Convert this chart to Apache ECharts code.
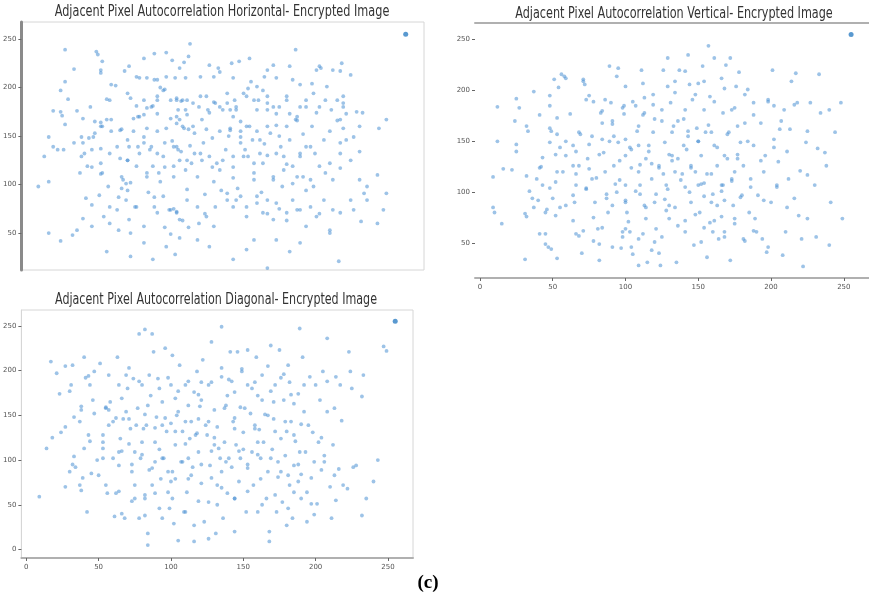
<!DOCTYPE html>
<html><head><meta charset="utf-8">
<script src="https://cdn.jsdelivr.net/npm/echarts@6/dist/echarts.min.js"></script>
<style>html,body{margin:0;padding:0;background:#fff}#c{width:869px;height:599px}</style>
</head><body><div id="c"></div>
<script>
// ---- tick labels ----
var tickValues = [0, 50, 100, 150, 200, 250];
var titles = [
  'Adjacent Pixel Autocorrelation Horizontal- Encrypted Image',
  'Adjacent Pixel Autocorrelation Vertical- Encrypted Image',
  'Adjacent Pixel Autocorrelation Diagonal- Encrypted Image'
];
var caption = '(c)';
// saturated pixel pair shown in every panel
var saturatedPoint = [[255, 255]];

// ---- Horizontal pairs (pixel, right neighbour) ----
var horizontalPairs = [
[26,239],[47,237],[48,234],[51,227],[50,218],[50,215],[32,219],[26,206],[23,197],[28,188],[18,176],[23,175],[24,171],[26,162],[34,176],
[79,230],[86,235],[94,236],[98,228],[110,245],[109,232],[103,220],[106,226],[66,217],[69,222],[74,211],[76,210],
[123,223],[129,220],[130,216],[138,225],[143,227],[150,230],[181,239],[177,222],[166,223],[162,218],[195,218],[197,222],[212,225],[211,217],[218,213],[206,218],[198,220],
[81,210],[88,208],[90,200],[94,211],[100,210],[107,210],[117,211],[126,211],[139,210],[151,206],[160,211],[168,210],[179,208],[184,203],[192,204],
[57,203],[60,202],[54,188],[56,187],[43,180],[38,168],[46,165],[50,164],[54,167],[37,149],[42,148],[45,149],
[68,194],[70,189],[74,181],[79,172],[81,179],[85,181],[88,173],[88,187],[72,168],[76,170],
[92,197],[97,187],[101,189],[105,187],[107,177],[102,177],[103,167],[97,168],[108,172],[112,184],[117,191],[116,180],[121,191],[123,174],[126,185],[130,180],[132,177],[135,184],[137,177],[139,170],[141,177],[144,165],[140,187],[146,194],[149,199],[153,187],[156,187],[159,197],[162,191],[155,177],[162,177],[166,180],[170,180],[175,187],[177,173],[181,167],[182,170],[184,180],[188,187],[193,194],[197,180],[201,187],[195,174],[205,177],[209,187],[213,191],[213,180],[222,175],[215,173],[211,167],[213,158],[204,155],[192,160],[175,160],[168,161],[162,160],[155,155],[148,160],[144,155],[137,158],[130,155],[121,157],[112,160],[106,158],[101,163],[94,158],[88,155],[81,158],[72,155],[63,156],[57,155],[50,160],[224,160],[237,158],[242,167],[226,174],
[8,98],[12,129],[15,149],[18,139],[21,136],[25,136],[15,103],
[32,143],[38,143],[37,129],[41,119],[36,112],[44,136],[50,137],[50,122],[51,112],[56,132],[61,139],[63,127],[68,125],[69,139],[65,105],[70,102],[74,119],[76,132],[79,143],[83,136],[85,119],[89,112],[92,129],[93,143],[99,139],[102,136],[103,125],[99,119],[107,115],[111,122],[117,132],[119,143],[123,129],[128,122],[130,115],[134,136],[139,129],[144,143],[147,136],[149,129],[153,122],[157,132],[162,130],[168,132],[173,129],[175,121],[179,119],[184,129],[188,139],[194,132],[197,119],[201,112],[206,105],[211,117],[218,125],[224,134],[211,143],[215,146],[236,110],[229,98],[139,107],[126,103],[115,108],[90,103],[81,112],[153,105],[166,105],[182,108],[191,105],
[15,50],[23,42],[31,48],[34,53],[40,86],[38,65],[44,79],[44,57],[49,89],[52,67],[56,77],[56,60],[61,74],[62,53],[67,84],[69,64],[70,50],[74,77],[79,57],[86,77],[88,71],[92,88],[96,74],[99,75],[101,71],[103,64],[108,84],[115,77],[121,67],[126,57],[131,94],[135,84],[139,77],[144,88],[148,67],[155,81],[159,71],[162,84],[166,64],[170,75],[175,71],[179,84],[184,74],[191,77],[195,67],[200,84],[204,53],[206,74],[211,71],[218,84],[220,74],[225,62],[236,60],[240,74],[242,91],[227,91],[229,84],
[54,31],[70,26],[79,40],[85,23],[94,36],[100,28],[103,45],[115,43],[123,36],[139,23],[148,33],[162,14],[168,43],[177,31],[184,40],[204,50],[210,21],[153,43],
[98,145],[110,140],[125,148],[136,150],[152,146],[160,142],[170,150],[186,152],[200,146],[108,95],[120,90],[142,96],[158,92],[172,98],[188,94],[82,92],[64,96],
[101,187],[104,186],[108,187],[101,170],[105,160],[109,157],[113,153],[118,167],[122,177],[127,184],[101,139],[104,134],[108,125],[113,132],[118,125],[125,118],[99,108],[93,118],[88,132],[84,139],[79,149],[75,139],[68,125],[64,108],[67,101],[68,94],[62,87],[73,77],[97,74],[101,72],[105,63],[109,56],[116,60],[120,70],[127,77],[93,56],[97,49],[86,87],[81,108],[55,98],[50,111],[44,118],[39,132],[46,153],[51,160],[57,167],[64,157],[68,146],[84,180],[88,191],[93,198],[75,170],[79,187],[86,208],
[135,194],[141,180],[148,191],[155,201],[162,184],[168,173],[175,191],[182,166],[188,180],[137,156],[144,149],[150,160],[157,146],[164,153],[171,139],[177,146],[184,132],[191,139],[132,125],[139,118],[146,129],[153,112],[159,122],[166,108],[173,115],[179,101],[186,108],[193,98],[135,91],[141,84],[148,77],[155,88],[162,70],[168,81],[175,63],[182,74],[188,57],[197,70],[204,122],[211,132],[209,166],[202,201],[213,184],[220,149],[224,105]
];

// ---- Vertical pairs (pixel, lower neighbour) ----
var verticalPairs = [
[9,115],[9,85],[10,80],[12,150],[15,69],[16,123],[12,184],
[22,122],[25,147],[25,140],[25,192],[27,183],[24,170],[31,79],[32,76],[31,34],[32,116],[32,165],[33,160],
[34,101],[36,94],[37,199],[39,113],[40,92],[41,59],[45,59],[45,49],[47,46],[49,44],[45,80],[46,83],[50,94],[43,107],[42,125],[43,134],[48,149],[49,160],[48,185],[48,195],[51,211],[56,216],[58,214],[59,212],[54,203],[53,173],[53,157],[52,137],[53,120],[52,110],[52,77],[53,35],[57,120],[59,150],[59,136],[62,177],[64,146],[66,140],[66,107],[64,97],[65,90],[66,59],[68,57],[70,40],[71,211],[72,206],[73,191],[75,195],[68,159],[74,133],[75,123],[77,113],[79,90],[78,75],[81,64],[82,49],[82,33],[83,178],[84,168],[84,152],[85,139],[86,120],[87,94],[88,80],[89,224],[90,188],[91,167],[92,155],[92,126],[94,100],[94,214],[95,222],[97,45],[98,61],[100,136],[100,152],[99,185],[99,177],[100,204],[100,90],[101,80],[102,71],[103,61],[104,46],[107,185],[108,160],[109,146],[109,120],[109,28],[110,107],[111,220],[112,207],[113,193],[113,178],[114,133],[114,74],[115,31],[118,113],[119,159],[120,90],[121,64],[123,40],[124,28],[125,181],[126,220],[127,149],[128,107],[129,232],[129,204],[130,87],[130,74],[132,136],[133,165],[134,198],[134,120],[135,31],[136,67],[137,220],[140,172],[141,105],[142,142],[143,235],[143,155],[145,90],[146,191],[147,48],[148,120],[149,163],[150,207],[151,80],[152,136],[153,224],[154,109],[155,159],[156,36],[157,244],[158,194],[158,70],[159,90],[160,61],[161,232],[161,146],[163,87],[163,126],[164,54],[166,76],[166,212],[167,178],[167,107],[168,136],[169,225],[171,159],[172,33],[172,232],[173,181],[173,113],[174,87],[175,74],[176,204],[177,133],[178,218],[179,149],[180,97],[181,54],[182,168],[184,201],[185,80],[186,113],[188,188],[188,146],[189,74],[190,61],[191,97],[193,168],[194,54],[195,120],[196,136],[197,41],[198,191],[200,90],[201,220],[202,152],[202,185],[204,107],[205,130],[206,162],[208,38],[209,181],[210,61],[211,140],[212,113],[213,162],[214,209],[216,94],[217,217],[218,188],[219,77],[221,54],[222,27],[224,149],[225,117],[225,74],[227,188],[230,107],[231,56],[232,143],[233,216],[234,178],[237,139],[238,126],[240,181],[240,48],[241,90],[244,159],[248,188],[249,74],
[109,165],[116,146],[120,172],[123,126],[129,103],[136,133],[141,181],[145,126],[150,107],[132,159],[127,93],[113,87],[104,142],[100,107],[95,149],[91,87],[86,191],[77,155],[73,103],[68,126],[64,126],[59,87],[154,181],[159,159],[166,107],[170,133],[177,165],[181,126],[168,61],[152,51],[141,61],[120,51],[109,54],[100,64],
[118,128],[126,118],[138,112],[144,100],[156,118],[160,98],[110,98],[104,124],[96,112],[140,146],[150,150],[131,188],[119,196],[144,206],[154,96],[168,92],[175,120],
[71,209],[78,189],[84,180],[91,170],[98,183],[105,189],[112,176],[119,186],[125,170],[69,157],[75,147],[82,137],[89,150],[96,131],[103,144],[110,127],[116,140],[123,124],[130,137],[66,118],[73,104],[80,114],[87,98],[93,108],[100,92],[107,101],[114,85],[121,98],[128,82],[64,72],[71,62],[78,52],[84,65],[91,46],[98,56],[105,39],[112,59],[118,43],[125,56],[41,176],[48,163],[55,144],[41,124],[48,104],[37,85],[55,85],
[134,209],[141,219],[148,196],[154,209],[161,189],[168,202],[175,183],[182,196],[188,176],[198,189],[207,170],[136,170],[143,160],[150,150],[157,166],[163,144],[170,157],[177,137],[184,150],[193,131],[202,144],[132,131],[139,118],[145,124],[152,108],[159,118],[166,101],[173,111],[179,95],[186,105],[195,92],[204,105],[134,85],[141,72],[148,78],[154,65],[161,72],[168,56],[175,69],[182,52],[188,62],[198,46],[211,85],[220,121],[216,186],[225,160]
];

// ---- Diagonal pairs (pixel, diagonal neighbour) ----
var diagonalPairs = [
[9,59],[14,113],[18,125],[17,210],[21,197],[23,174],[24,131],[27,137],[27,205],[27,70],[30,87],[31,184],[32,206],[33,148],[33,104],[34,92],[37,72],[38,66],[38,156],[38,160],[40,215],[40,113],[42,42],[43,194],[44,184],[45,85],[46,167],[47,199],[47,152],[49,100],[50,83],[51,208],[53,128],[53,120],[55,159],[55,72],[56,63],[57,156],[58,165],[60,143],[61,37],[62,63],[63,215],[64,94],[65,124],[66,40],[67,146],[68,35],[69,195],[71,118],[72,135],[73,87],[74,191],[75,72],[77,158],[78,35],[78,241],[79,102],[80,184],[81,135],[82,57],[82,38],[82,246],[83,139],[84,18],[84,5],[85,89],[86,172],[87,241],[88,221],[89,63],[89,120],[90,148],[91,191],[93,79],[94,35],[94,165],[95,102],[96,225],[97,132],[98,64],[99,46],[100,141],[100,184],[101,217],[102,29],[103,79],[103,117],[105,10],[105,154],[106,206],[107,98],[108,132],[109,42],[110,184],[111,64],[112,161],[113,124],[114,143],[115,92],[116,27],[116,9],[118,199],[119,146],[119,109],[121,74],[121,167],[122,212],[123,31],[125,128],[126,12],[127,94],[128,232],[128,187],[130,156],[131,18],[132,137],[132,72],[134,102],[135,249],[135,193],[136,35],[137,120],[138,161],[139,63],[141,221],[142,92],[143,143],[144,20],[144,176],[145,117],[146,221],[147,76],[148,159],[149,202],[150,131],[152,42],[153,91],[153,223],[155,152],[156,109],[157,72],[158,187],[159,215],[160,42],[161,134],[162,79],[163,167],[164,120],[166,57],[167,205],[168,20],[168,9],[169,102],[169,228],[171,146],[172,184],[173,42],[174,81],[175,223],[176,124],[177,53],[178,167],[179,105],[180,27],[181,206],[182,72],[182,187],[183,143],[184,35],[185,94],[185,163],[186,121],[188,174],[188,76],[189,247],[190,140],[191,215],[192,154],[193,109],[194,64],[194,31],[196,193],[197,51],[198,131],[199,98],[200,184],[201,51],[202,120],[203,167],[204,89],[205,199],[206,105],[208,236],[208,154],[210,70],[211,35],[212,117],[214,193],[214,55],[216,90],[217,184],[218,144],[219,72],[222,68],[223,221],[224,199],[225,180],[226,92],[228,94],[232,171],[232,38],[233,195],[235,57],[240,76],[243,100],[247,227],[249,222],
[121,187],[126,143],[130,117],[135,87],[116,176],[112,102],[103,169],[94,139],[89,98],[84,161],[80,120],[75,109],[71,146],[66,169],[144,135],[148,102],[139,172],[132,50],[158,135],[162,102],[167,150],[171,165],[176,87],[180,132],[185,64],[189,109],[153,184],[144,57],[126,53],[112,79],[98,87],[87,72],[75,57],[64,109],[53,102],[43,128],[57,139],
[110,118],[118,130],[128,110],[138,98],[150,112],[160,120],[170,112],[104,150],[92,112],[100,76],[120,160],[140,190],[160,172],[178,196],[190,84],[70,180],
[57,195],[64,184],[71,203],[78,188],[85,195],[92,180],[98,192],[105,177],[112,188],[119,173],[126,184],[55,158],[62,147],[69,154],[76,139],[82,151],[89,136],[96,147],[103,132],[110,143],[117,128],[124,139],[130,125],[53,113],[60,102],[66,110],[73,95],[80,106],[87,91],[94,102],[101,87],[108,98],[114,83],[121,95],[128,80],[64,65],[73,54],[82,61],[92,46],[101,57],[110,42],[119,54],[32,95],[39,80],[44,121],[37,143],[30,177],[41,192],
[135,203],[142,188],[149,199],[156,180],[163,195],[169,177],[176,192],[183,173],[192,184],[137,158],[144,147],[151,158],[158,139],[165,151],[172,132],[179,143],[185,128],[195,139],[204,125],[133,113],[140,102],[147,110],[153,95],[160,106],[167,87],[174,98],[181,83],[188,95],[197,80],[206,98],[135,69],[144,57],[153,65],[163,50],[172,61],[181,46],[190,57],[199,39],[213,83],[213,158],[208,188]
];

// ---- build chart ----
var chart = echarts.init(document.getElementById('c'), null, {renderer: 'canvas'});
var pointStyle = {color: 'rgba(74,144,210,0.68)'};
var satStyle = {color: '#2f7fc4'};
var lblFont = {fontSize: 7, color: '#555', fontFamily: 'DejaVu Sans'};
function xAx(gi, show, pos, withLabels) {
  return {type: 'value', gridIndex: gi, min: -3.4, max: 267.3, show: show, position: pos,
    splitLine: {show: false},
    axisLine: {show: true, onZero: false, lineStyle: {color: '#b0b0b0', width: 2}},
    axisTick: {show: withLabels, length: 3, customValues: tickValues, lineStyle: {color: '#666'}},
    axisLabel: Object.assign({show: withLabels, customValues: tickValues, margin: 6}, lblFont)};
}
function yAx(gi, min, max, lineShow, lineColor, lineWidth) {
  return {type: 'value', gridIndex: gi, min: min, max: max,
    splitLine: {show: false},
    axisLine: {show: lineShow, onZero: false, lineStyle: {color: lineColor, width: lineWidth}},
    axisTick: {show: true, length: 3, customValues: tickValues, lineStyle: {color: '#666'}},
    axisLabel: Object.assign({customValues: tickValues, margin: 5}, lblFont)};
}
var titleFont = '16px "DejaVu Sans"';
var titlePos = [[222, 12, 0.705], [674, 14, 0.701], [216, 300, 0.694]];
chart.setOption({
  animation: false,
  backgroundColor: '#fff',
  graphic: titles.map(function (t, i) {
    return {type: 'text', x: titlePos[i][0], y: titlePos[i][1], scaleX: titlePos[i][2], z: 10,
      style: {text: t, font: titleFont, fill: '#333', align: 'center', verticalAlign: 'middle'}};
  }).concat([{type: 'text', x: 428, y: 583,
      style: {text: caption, font: 'bold 19px "Liberation Serif"', fill: '#000', align: 'center', verticalAlign: 'middle'}}]),
  grid: [
    {left: 21, top: 22, width: 403, height: 248, show: true, borderColor: '#d6d6d6', borderWidth: 1},
    {left: 475, top: 23, width: 397, height: 255, show: false},
    {left: 18, top: 310, width: 395, height: 248, show: true, borderColor: '#d6d6d6', borderWidth: 1}
  ],
  xAxis: [xAx(0, false, 'bottom', false), xAx(1, true, 'bottom', true), xAx(1, true, 'top', false), xAx(2, true, 'bottom', true)],
  yAxis: [yAx(0, 12, 267.5, true, '#8a8a8a', 3), yAx(1, 15.6, 266.4, false, '#d6d6d6', 1), yAx(2, -9.5, 267.7, true, '#d6d6d6', 1)],
  series: [
    {type: 'scatter', xAxisIndex: 0, yAxisIndex: 0, data: horizontalPairs, symbolSize: 3.8, itemStyle: pointStyle},
    {type: 'scatter', xAxisIndex: 0, yAxisIndex: 0, data: saturatedPoint, symbolSize: 5, itemStyle: satStyle},
    {type: 'scatter', xAxisIndex: 1, yAxisIndex: 1, data: verticalPairs, symbolSize: 3.8, itemStyle: pointStyle},
    {type: 'scatter', xAxisIndex: 1, yAxisIndex: 1, data: saturatedPoint, symbolSize: 5, itemStyle: satStyle},
    {type: 'scatter', xAxisIndex: 3, yAxisIndex: 2, data: diagonalPairs, symbolSize: 3.8, itemStyle: pointStyle},
    {type: 'scatter', xAxisIndex: 3, yAxisIndex: 2, data: saturatedPoint, symbolSize: 5, itemStyle: satStyle}
  ]
});
</script></body></html>
